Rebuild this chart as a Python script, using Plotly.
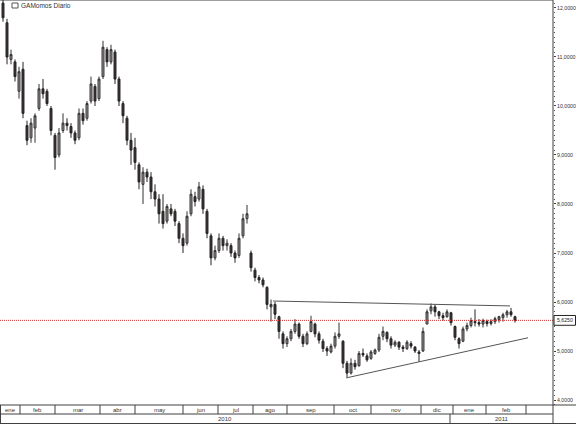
import plotly.graph_objects as go

# ---- data ----
opens = [12.1, 11.7, 10.95, 10.9, 10.3, 10.75, 9.6, 9.35, 9.55, 9.95,
         10.35, 10.3, 9.95, 9.4, 9.0, 9.5, 9.65, 9.58, 9.45, 9.35,
         9.85, 9.75, 10.1, 10.4, 10.15, 10.6, 11.15, 10.9, 11.1, 10.55,
         10.05, 9.75, 9.3, 9.15, 8.8, 8.4, 8.65, 8.55, 8.25, 8.1,
         7.85, 7.65, 7.9, 7.85, 7.6, 7.3, 7.2, 7.8, 8.15, 8.1,
         8.3, 7.85, 7.35, 6.9, 7.05, 7.3, 7.15, 7.15, 7.0, 6.95,
         7.35, 7.7, 7.0, 6.65, 6.5, 6.45, 6.3, 5.9, 5.95, 5.7,
         5.35, 5.15, 5.25, 5.4, 5.55, 5.3, 5.15, 5.4, 5.55, 5.35,
         5.2, 5.05, 4.98, 5.1, 5.3, 5.2, 4.75, 4.55, 4.75, 4.7,
         4.95, 4.9, 4.85, 4.95, 5.02, 5.3, 5.38, 5.25, 5.12, 5.18,
         5.08, 5.05, 5.15, 5.08, 4.98, 5.0, 5.55, 5.82, 5.9, 5.8,
         5.72, 5.7, 5.78, 5.5, 5.25, 5.2, 5.45, 5.52, 5.6, 5.58,
         5.55, 5.6, 5.56, 5.6, 5.64, 5.68, 5.74, 5.8, 5.7]
highs = [12.2, 11.78, 11.15, 10.95, 10.8, 10.9, 9.7, 9.75, 9.85, 10.45,
         10.55, 10.35, 10.0, 9.45, 9.55, 9.85, 9.75, 9.65, 9.5, 9.95,
         9.95, 10.1, 10.6, 10.45, 10.6, 11.33, 11.2, 11.25, 11.15, 10.6,
         10.1, 9.8, 9.45, 9.35, 8.85, 8.75, 8.72, 8.65, 8.4, 8.2,
         8.2, 8.0, 8.0, 7.9, 7.65, 7.4, 7.85, 8.3, 8.25, 8.45,
         8.38, 7.9, 7.4, 7.15, 7.4, 7.35, 7.28, 7.2, 7.05, 7.4,
         7.8, 7.98, 7.05, 6.7, 6.55, 6.5, 6.32, 6.05, 6.0, 5.72,
         5.4, 5.3, 5.45, 5.65, 5.58, 5.35, 5.4, 5.72, 5.58, 5.4,
         5.25, 5.1, 5.15, 5.38, 5.58, 5.22, 4.8, 4.85, 4.82, 5.0,
         5.05, 4.95, 5.02, 5.05, 5.35, 5.5, 5.4, 5.3, 5.22, 5.2,
         5.12, 5.22, 5.2, 5.1, 5.02, 5.48, 5.85, 5.97, 5.95, 5.82,
         5.78, 5.85, 5.8, 5.52, 5.28, 5.5, 5.58, 5.68, 5.85, 5.65,
         5.66, 5.64, 5.65, 5.7, 5.72, 5.78, 5.84, 5.88, 5.72]
lows = [11.72, 10.85, 10.85, 10.5, 10.15, 9.75, 9.2, 9.25, 9.25, 9.9,
        10.15, 10.0, 9.4, 8.7, 8.95, 9.45, 9.5, 9.35, 9.22, 9.3,
        9.62, 9.7, 10.05, 10.0, 10.1, 10.55, 10.8, 10.85, 10.45, 10.0,
        9.65, 9.2, 8.8, 8.7, 8.3, 8.0, 8.45, 8.1, 7.95, 7.6,
        7.5, 7.6, 7.75, 7.55, 7.2, 7.0, 7.15, 7.75, 7.95, 8.05,
        7.8, 7.3, 6.75, 6.85, 7.0, 7.05, 7.05, 6.92, 6.8, 6.9,
        7.3, 7.6, 6.62, 6.42, 6.38, 6.3, 5.85, 5.6, 5.65, 5.25,
        5.05, 5.08, 5.2, 5.35, 5.25, 5.08, 5.12, 5.38, 5.28, 5.15,
        4.98, 4.9, 4.95, 5.05, 5.25, 4.65, 4.47, 4.52, 4.62, 4.68,
        4.88, 4.78, 4.82, 4.92, 4.98, 5.22, 5.18, 5.05, 5.08, 5.02,
        4.98, 5.02, 5.05, 4.96, 4.78, 4.98, 5.55, 5.75, 5.7, 5.65,
        5.62, 5.68, 5.52, 5.22, 5.05, 5.18, 5.4, 5.48, 5.5, 5.5,
        5.48, 5.5, 5.52, 5.55, 5.58, 5.6, 5.68, 5.7, 5.58]
closes = [11.8, 11.0, 11.05, 10.6, 10.7, 9.85, 9.3, 9.65, 9.8, 10.35,
          10.25, 10.05, 9.5, 8.95, 9.45, 9.65, 9.6, 9.45, 9.3, 9.85,
          9.7, 10.05, 10.45, 10.1, 10.55, 11.2, 10.9, 11.15, 10.55, 10.1,
          9.8, 9.3, 9.1, 8.85, 8.45, 8.65, 8.55, 8.25, 8.1, 7.8,
          7.6, 7.95, 7.8, 7.65, 7.3, 7.15, 7.75, 8.2, 8.05, 8.35,
          7.9, 7.4, 6.9, 7.05, 7.3, 7.15, 7.2, 7.0, 6.9, 7.3,
          7.7, 7.8, 6.7, 6.5, 6.45, 6.35, 5.95, 5.95, 5.75, 5.4,
          5.15, 5.25, 5.4, 5.55, 5.3, 5.15, 5.35, 5.6, 5.35, 5.22,
          5.05, 5.0, 5.1, 5.3, 5.35, 4.75, 4.55, 4.75, 4.68, 4.95,
          4.92, 4.82, 4.98, 5.02, 5.28, 5.4, 5.25, 5.12, 5.18, 5.08,
          5.05, 5.18, 5.1, 5.0, 4.95, 5.4, 5.8, 5.9, 5.8, 5.72,
          5.68, 5.8, 5.58, 5.28, 5.15, 5.45, 5.52, 5.62, 5.58, 5.55,
          5.62, 5.56, 5.6, 5.66, 5.7, 5.74, 5.8, 5.74, 5.625]

# trend lines (bar index, price)
upper_x = [67.5, 126.75]
upper_y = [6.02, 5.92]
lower_x = [85.75, 131.25]
lower_y = [4.45, 5.27]

month_labels = ["ene", "feb", "mar", "abr", "may", "jun", "jul", "ago",
                "sep", "oct", "nov", "dic", "ene", "feb"]
month_edges = [-0.75, 4.25, 13.0, 24.25, 33.0, 45.0, 53.75, 62.5, 71.0,
               82.75, 92.0, 104.5, 112.5, 120.75, 130.75]
year_labels = ["2010", "2011"]
year_edges = [-0.75, 111.75, 137.5]
title_text = "GAMomos Diario"

# ---- figure ----
W, H = 576, 424
ML, MR, MT, MB = 0, 23, 0, 19
PW, PH = W - ML - MR, H - MT - MB
X_RANGE = [-0.75, 137.5]
Y_RANGE = [3.898, 12.163]
FONT = "Liberation Sans, Arial, sans-serif"

def py(px):
    # pixel offset below plot bottom -> paper y
    return -px / PH

def pxr(px):
    return px / PW

idx = list(range(len(closes)))
fig = go.Figure()
fig.add_trace(go.Candlestick(
    x=idx, open=opens, high=highs, low=lows, close=closes,
    increasing=dict(line=dict(color="#333333", width=1), fillcolor="#9a9292"),
    decreasing=dict(line=dict(color="#262222", width=1), fillcolor="#3e3434"),
    whiskerwidth=0, showlegend=False, hoverinfo="skip"))
fig.add_trace(go.Scatter(x=upper_x, y=upper_y, mode="lines",
                         line=dict(color="#555555", width=1), showlegend=False))
fig.add_trace(go.Scatter(x=lower_x, y=lower_y, mode="lines",
                         line=dict(color="#555555", width=1), showlegend=False))

last = closes[-1]
shapes = []
line_c = "#404040"
# last price dotted line
shapes.append(dict(type="line", xref="paper", yref="y", x0=0, x1=1, y0=last, y1=last,
                   line=dict(color="#c83030", width=1, dash="1px,1px")))
# frame
shapes.append(dict(type="line", xref="paper", yref="paper", x0=0, x1=1, y0=1, y1=1,
                   line=dict(color=line_c, width=1)))
shapes.append(dict(type="line", xref="paper", yref="paper", x0=1, x1=1, y0=py(19), y1=1,
                   line=dict(color=line_c, width=1)))
shapes.append(dict(type="line", xref="paper", yref="paper", x0=0, x1=pxr(576), y0=0, y1=0,
                   line=dict(color=line_c, width=1)))
shapes.append(dict(type="line", xref="paper", yref="paper", x0=0, x1=1, y0=py(9), y1=py(9),
                   line=dict(color=line_c, width=1)))
shapes.append(dict(type="line", xref="paper", yref="paper", x0=0, x1=pxr(576),
                   y0=py(18.5), y1=py(18.5), line=dict(color=line_c, width=1)))
shapes.append(dict(type="line", xref="paper", yref="paper", x0=0.0009, x1=0.0009,
                   y0=py(18.5), y1=0, line=dict(color=line_c, width=1)))
for e in month_edges[1:]:
    shapes.append(dict(type="line", xref="x", yref="paper", x0=e, x1=e, y0=py(9), y1=0,
                       line=dict(color=line_c, width=1)))
shapes.append(dict(type="line", xref="x", yref="paper", x0=year_edges[1], x1=year_edges[1],
                   y0=py(18.5), y1=py(9), line=dict(color=line_c, width=1)))
# small title icon
shapes.append(dict(type="rect", xref="paper", yref="paper", x0=pxr(12), x1=pxr(18),
                   y0=1 - 8 / PH, y1=1 - 3 / PH, line=dict(color="#555555", width=1)))
# price label box on the axis
shapes.append(dict(type="rect", xref="paper", yref="y", x0=pxr(554), x1=pxr(575.5),
                   y0=last - 0.1, y1=last + 0.1, fillcolor="white",
                   line=dict(color="#222222", width=1), layer="above"))

annotations = []
small = dict(family=FONT, size=6, color="#333333")
for i, lab in enumerate(month_labels):
    annotations.append(dict(x=(month_edges[i] + month_edges[i + 1]) / 2, y=py(4.5),
                            xref="x", yref="paper", text=lab, showarrow=False,
                            font=small, xanchor="center", yanchor="middle"))
for i, lab in enumerate(year_labels):
    annotations.append(dict(x=(year_edges[i] + year_edges[i + 1]) / 2, y=py(14),
                            xref="x", yref="paper", text=lab, showarrow=False,
                            font=small, xanchor="center", yanchor="middle"))
annotations.append(dict(x=pxr(19), y=1 - 5.5 / PH, xref="paper", yref="paper",
                        text=title_text, showarrow=False,
                        font=dict(family=FONT, size=6.5, color="#333333"),
                        xanchor="left", yanchor="middle"))
annotations.append(dict(x=pxr(564.8), y=last, xref="paper", yref="y",
                        text=f"{last:.4f}".replace(".", ","), showarrow=False,
                        font=dict(family=FONT, size=5.2, color="#222222"),
                        xanchor="center", yanchor="middle", borderpad=0))

fig.update_layout(
    width=W, height=H,
    margin=dict(l=ML, r=MR, t=MT, b=MB, pad=0),
    paper_bgcolor="white", plot_bgcolor="white",
    separators=",.",
    showlegend=False,
    shapes=shapes, annotations=annotations,
    xaxis=dict(range=X_RANGE, showticklabels=False, showgrid=False, zeroline=False,
               showline=False, ticks="", rangeslider=dict(visible=False), fixedrange=True),
    yaxis=dict(range=Y_RANGE, side="right", showgrid=False, zeroline=False,
               showline=False, tickmode="linear", tick0=4, dtick=1, tickformat=".4f",
               ticks="outside", ticklen=2, tickcolor=line_c, ticklabelstandoff=0,
               tickfont=dict(family=FONT, size=5.2, color="#333333"),
               minor=dict(dtick=0.1, ticks="outside", ticklen=1, tickcolor="#555555"),
               fixedrange=True),
)
fig.write_html("out.html", config={"displayModeBar": False},
               post_script="document.body.style.margin='0';document.body.style.overflow='hidden';")
